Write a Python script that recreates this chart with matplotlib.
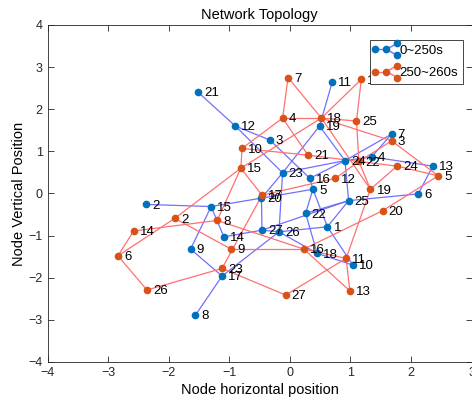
import matplotlib
matplotlib.use("Agg")
import matplotlib.pyplot as plt
from matplotlib.legend_handler import HandlerBase
from matplotlib.lines import Line2D

plt.rcParams['font.family'] = ['Liberation Sans', 'DejaVu Sans']

# ---- data ----
blue_x = [0.62, -2.37, -0.33, 1.35, 0.38, 2.12, 1.68, -1.56, -1.64, 1.04, 0.70, -0.90, 2.36, -1.09,
          -1.30, 0.33, -1.12, 0.45, 0.49, -0.47, -1.52, 0.26, -0.12, 0.91, 0.97, -0.18, -0.46]
blue_y = [-0.79, -0.26, 1.27, 0.87, 0.10, -0.01, 1.41, -2.89, -1.32, -1.70, 2.65, 1.60, 0.65, -1.03,
          -0.31, 0.36, -1.96, -1.42, 1.60, -0.11, 2.41, -0.47, 0.49, 0.78, -0.17, -0.91, -0.87]
blue_edges = [(21, 12), (12, 3), (12, 23), (3, 16), (11, 19), (19, 23), (19, 24), (7, 24), (7, 4),
              (24, 4), (4, 13), (13, 6), (6, 25), (24, 25), (23, 24), (23, 20), (23, 26), (16, 24),
              (16, 5), (5, 22), (5, 1), (20, 5), (25, 1), (25, 22), (1, 10), (22, 18), (18, 10),
              (15, 2), (15, 9), (15, 14), (15, 20), (14, 27), (27, 26), (27, 20), (9, 17), (17, 8),
              (17, 26), (26, 1), (26, 18), (27, 25)]

orange_x = [1.18, -1.90, 1.68, -0.12, 2.45, -2.84, -0.03, -1.20, -0.97, -0.79, 0.93, 0.75, 0.99, -2.58,
            -0.81, 0.23, -0.46, 0.52, 1.33, 1.53, 0.30, 1.14, -1.12, 1.77, 1.10, -2.36, -0.07]
orange_y = [2.71, -0.59, 1.25, 1.79, 0.42, -1.48, 2.75, -0.64, -1.32, 1.07, -1.54, 0.36, -2.31, -0.89,
            0.60, -1.32, -0.04, 1.79, 0.10, -0.41, 0.91, 0.76, -1.78, 0.65, 1.72, -2.29, -2.41]
orange_edges = [(7, 4), (7, 18), (1, 18), (1, 25), (4, 18), (4, 21), (4, 10), (18, 25), (18, 3),
                (18, 19), (18, 15), (25, 22), (10, 21), (21, 22), (10, 15), (15, 17), (15, 8),
                (15, 2), (22, 3), (22, 12), (22, 19), (22, 24), (24, 19), (3, 5), (24, 5), (20, 5),
                (12, 17), (20, 16), (19, 11), (11, 13), (11, 27), (11, 16), (16, 13), (16, 8),
                (8, 14), (14, 6), (6, 2), (6, 26), (26, 23), (23, 17), (23, 27), (9, 2), (9, 16)]

labels = [str(i) for i in range(1, 28)]
legend_labels = ['0~250s', '250~260s']

node_blue = '#0072BD'
node_orange = '#D95319'
edge_blue = '#7070FF'
edge_red = '#FF7070'


class GraphHandler(HandlerBase):
    def __init__(self, ecol, ncol):
        super().__init__()
        self.ecol = ecol
        self.ncol = ncol

    def create_artists(self, legend, orig_handle, xdescent, ydescent, width, height, fontsize, trans):
        x0, y0 = -xdescent, -ydescent + height / 2
        pts = [(x0, y0), (x0 + width * 0.5, y0), (x0 + width, y0 + height * 0.65),
               (x0 + width, y0 - height * 0.65)]
        arts = []
        for a, b in [(0, 1), (1, 2), (1, 3)]:
            arts.append(Line2D([pts[a][0], pts[b][0]], [pts[a][1], pts[b][1]],
                               color=self.ecol, lw=1.0, transform=trans))
        for p in pts:
            arts.append(Line2D([p[0]], [p[1]], marker='o', ms=4.5, color=self.ncol,
                               linestyle='none', transform=trans))
        return arts


fig = plt.figure(figsize=(4.72, 4.07), dpi=100)
ax = fig.add_axes([0.101, 0.1106, 0.898, 0.828])


def draw(xs, ys, edges, ecol, ncol):
    for a, b in edges:
        ax.plot([xs[a - 1], xs[b - 1]], [ys[a - 1], ys[b - 1]], color=ecol, lw=0.9, zorder=1)
    ax.plot(xs, ys, 'o', color=ncol, ms=4.5, zorder=3, linestyle='none')
    for i, (x, y) in enumerate(zip(xs, ys)):
        ax.text(x + 0.1, y - 0.03, labels[i], fontsize=9.5, va='center', ha='left', zorder=4)


draw(blue_x, blue_y, blue_edges, edge_blue, node_blue)
draw(orange_x, orange_y, orange_edges, edge_red, node_orange)

ax.set_xlim(-4, 3)
ax.set_ylim(-4, 4)
ax.set_xticks(range(-4, 4))
ax.set_yticks(range(-4, 5))
ax.tick_params(direction='in', top=True, right=True, labelsize=9, length=4, width=0.6, colors='#262626')
for s in ax.spines.values():
    s.set_linewidth(0.6)
    s.set_color('#262626')
ax.set_title('Network Topology', fontsize=10.5, pad=4)
ax.set_xlabel('Node horizontal position', fontsize=10.5, labelpad=3)
ax.set_ylabel('Node Vertical Position', fontsize=10.5, labelpad=2)

h1 = Line2D([], [])
h2 = Line2D([], [])
leg = ax.legend([h1, h2], legend_labels, loc='upper right', bbox_to_anchor=(0.979, 0.955),
                borderaxespad=0, fontsize=9.5,
                handler_map={h1: GraphHandler(edge_blue, node_blue), h2: GraphHandler(edge_red, node_orange)},
                fancybox=False, edgecolor='#262626', framealpha=1,
                handlelength=1.7, handletextpad=0.15, borderpad=0.35, labelspacing=0.75)
leg.get_frame().set_linewidth(0.6)

fig.savefig('out.png', dpi=100)
